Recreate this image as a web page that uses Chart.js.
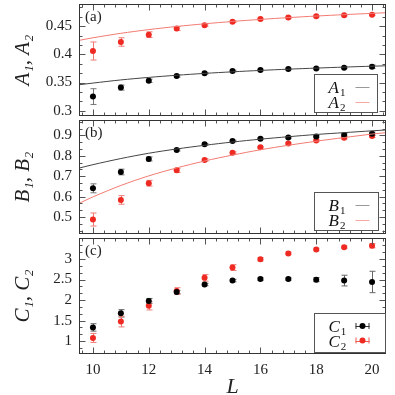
<!DOCTYPE html>
<html>
<head>
<meta charset="utf-8">
<script src="https://cdn.jsdelivr.net/npm/chart.js@4.4.0/dist/chart.umd.min.js"></script>
<style>
  html, body { margin: 0; padding: 0; background: #fff; overflow: hidden; }
  #wrap { position: relative; width: 395px; height: 395px; overflow: hidden; }
  canvas { position: absolute; left: 0; }
</style>
</head>
<body>
<div id="wrap">
  <canvas id="pa" width="395" height="120" style="top:0px"></canvas>
  <canvas id="pb" width="395" height="122" style="top:116px"></canvas>
  <canvas id="pc" width="395" height="170" style="top:234px"></canvas>
</div>
<script>
// system sizes
const L = [10, 11, 12, 13, 14, 15, 16, 17, 18, 19, 20];
const A1 = [0.325, 0.341, 0.353, 0.3615, 0.3666, 0.3705, 0.3722, 0.374, 0.3751, 0.3763, 0.378];
const A1err = [0.014, 0.0045, 0.003, 0.002, 0.0015, 0.0015, 0.0015, 0.0015, 0.0015, 0.0015, 0.003];
const A2 = [0.406, 0.422, 0.435, 0.4458, 0.4519, 0.458, 0.4627, 0.4654, 0.4678, 0.4695, 0.4705];
const A2err = [0.016, 0.0075, 0.005, 0.0035, 0.002, 0.0015, 0.0015, 0.0015, 0.0015, 0.0015, 0.0015];
const B1 = [0.641, 0.721, 0.785, 0.829, 0.857, 0.873, 0.884, 0.8905, 0.895, 0.903, 0.908];
const B1err = [0.022, 0.014, 0.01, 0.005, 0.004, 0.004, 0.004, 0.004, 0.005, 0.006, 0.008];
const B2 = [0.488, 0.584, 0.666, 0.729, 0.780, 0.815, 0.842, 0.861, 0.876, 0.889, 0.898];
const B2err = [0.032, 0.021, 0.014, 0.01, 0.006, 0.005, 0.004, 0.004, 0.005, 0.006, 0.008];
const C1 = [1.335, 1.677, 1.98, 2.195, 2.378, 2.474, 2.51, 2.51, 2.497, 2.474, 2.44];
const C1err = [0.09, 0.09, 0.06, 0.04, 0.03, 0.03, 0.03, 0.03, 0.05, 0.13, 0.26];
const C2 = [1.08, 1.478, 1.86, 2.22, 2.54, 2.79, 2.99, 3.134, 3.23, 3.287, 3.32];
const C2err = [0.11, 0.13, 0.1, 0.08, 0.08, 0.07, 0.04, 0.03, 0.03, 0.03, 0.05];

// fitted curves
const Lfit = [9.5, 10, 11, 12, 13, 14, 15, 16, 17, 18, 19, 20, 20.5];
const A1fit = [0.346, 0.349, 0.3546, 0.3591, 0.3629, 0.3662, 0.369, 0.3715, 0.3737, 0.3756, 0.3774, 0.379, 0.3797];
const A2fit = [0.4248, 0.4295, 0.4374, 0.444, 0.4496, 0.4543, 0.4585, 0.4621, 0.4653, 0.4681, 0.4706, 0.4729, 0.474];
const B1fit = [0.740, 0.757, 0.787, 0.813, 0.834, 0.852, 0.868, 0.882, 0.894, 0.905, 0.914, 0.923, 0.927];
const B2fit = [0.567, 0.599, 0.655, 0.702, 0.741, 0.775, 0.804, 0.830, 0.852, 0.872, 0.890, 0.907, 0.914];

// tick labels
const xTicks = [10, 12, 14, 16, 18, 20];
const aTicks = [0.3, 0.35, 0.4, 0.45];
const bTicks = [0.5, 0.6, 0.7, 0.8, 0.9];
const cTicks = [1, 1.5, 2, 2.5, 3];

const SERIF = '"Liberation Serif", "DejaVu Serif", serif';
const BLACK = '#000000';
const RED = '#ee2a22';

function pts(xs, ys) {
  return xs.map((v, i) => ({ x: v, y: ys[i] }));
}

// error bars, drawn under the dots
const errorBars = {
  id: 'errorBars',
  beforeDatasetsDraw(chart) {
    const { ctx, scales: { x, y } } = chart;
    chart.data.datasets.forEach(ds => {
      if (!ds.errY) return;
      ctx.save();
      ctx.strokeStyle = ds.errColor;
      ctx.lineWidth = 1;
      ds.data.forEach((p, j) => {
        const px = Math.round(x.getPixelForValue(p.x)) + 0.5;
        const y0 = y.getPixelForValue(p.y - ds.errY[j]);
        const y1 = y.getPixelForValue(p.y + ds.errY[j]);
        ctx.beginPath();
        ctx.moveTo(px, y0); ctx.lineTo(px, y1);
        ctx.moveTo(px - 3, y0); ctx.lineTo(px + 3, y0);
        ctx.moveTo(px - 3, y1); ctx.lineTo(px + 3, y1);
        ctx.stroke();
      });
      ctx.restore();
    });
  }
};

// frame with inward ticks on all four sides, plus the panel tag
const frameTicks = {
  id: 'frameTicks',
  afterDatasetsDraw(chart, args, opts) {
    const { ctx, chartArea: a, scales: { x, y } } = chart;
    const top = Math.round(a.top) + 0.5, bot = Math.round(a.bottom) - 0.5;
    const left = Math.round(a.left) + 0.5, right = Math.round(a.right) - 0.5;
    ctx.save();
    ctx.strokeStyle = '#555';
    ctx.lineWidth = 1;
    ctx.beginPath();
    // x ticks every 0.4, major at the labelled ones
    for (let i = 0; ; i++) {
      const v = 9.6 + i * 0.4;
      if (v > x.max) break;
      const major = xTicks.some(t => Math.abs(t - v) < 1e-6);
      const len = major ? 6 : 3;
      const px = Math.round(x.getPixelForValue(v)) + 0.5;
      ctx.moveTo(px, bot); ctx.lineTo(px, bot - len);
      ctx.moveTo(px, top); ctx.lineTo(px, top + len);
    }
    // y ticks
    const maj = opts.yTicks, step = opts.yMinor;
    let v0 = maj[0];
    while (v0 - step > y.min) v0 -= step;
    for (let i = 0; ; i++) {
      const v = v0 + i * step;
      if (v > y.max) break;
      const major = maj.some(t => Math.abs(t - v) < step / 10);
      const len = major ? 6 : 3;
      const py = Math.round(y.getPixelForValue(v)) + 0.5;
      ctx.moveTo(left, py); ctx.lineTo(left + len, py);
      ctx.moveTo(right, py); ctx.lineTo(right - len, py);
    }
    ctx.stroke();
    ctx.strokeStyle = '#333';
    ctx.strokeRect(left, top, right - left, bot - top);
    ctx.fillStyle = '#222';
    ctx.font = '15px ' + SERIF;
    ctx.textBaseline = 'middle';
    ctx.textAlign = 'left';
    ctx.fillText(opts.tag, a.left + 6, a.top + 13);
    ctx.restore();
  }
};

// boxed legend in the lower right corner
const boxLegend = {
  id: 'boxLegend',
  afterDraw(chart, args, opts) {
    const { ctx, chartArea: a } = chart;
    const x1 = Math.round(a.right - opts.right) + 0.5;
    const y1 = Math.round(a.bottom - opts.bottom) + 0.5;
    const x0 = x1 - opts.width, y0 = y1 - opts.height;
    ctx.save();
    ctx.fillStyle = '#fff';
    ctx.fillRect(x0, y0, opts.width, opts.height);
    ctx.strokeStyle = '#555';
    ctx.lineWidth = 1;
    ctx.strokeRect(x0, y0, opts.width, opts.height);
    opts.items.forEach((it, k) => {
      const cy = y0 + 12.5 + k * 14.5;
      ctx.fillStyle = '#111';
      ctx.textBaseline = 'alphabetic';
      ctx.textAlign = 'left';
      ctx.font = 'italic 17px ' + SERIF;
      ctx.fillText(it.letter, x0 + 14, cy + 6);
      const w = ctx.measureText(it.letter).width;
      ctx.font = '11px ' + SERIF;
      ctx.fillText(it.sub, x0 + 14 + w + 1, cy + 9);
      const sx0 = x0 + 41, sx1 = x0 + 55;
      ctx.strokeStyle = it.line;
      ctx.beginPath();
      ctx.moveTo(sx0, Math.round(cy) + 0.5); ctx.lineTo(sx1, Math.round(cy) + 0.5);
      if (it.dot) {
        ctx.moveTo(sx0 + 0.5, cy - 3); ctx.lineTo(sx0 + 0.5, cy + 3);
        ctx.moveTo(sx1 - 0.5, cy - 3); ctx.lineTo(sx1 - 0.5, cy + 3);
      }
      ctx.stroke();
      if (it.dot) {
        ctx.fillStyle = it.dot;
        ctx.beginPath();
        ctx.arc((sx0 + sx1) / 2, cy, 3, 0, Math.PI * 2);
        ctx.fill();
      }
    });
    ctx.restore();
  }
};

function makePanel(id, p) {
  const datasets = [];
  (p.fits || []).forEach(f => datasets.push({
    data: pts(Lfit, f.ys), showLine: true, borderColor: f.color, borderWidth: 1,
    pointRadius: 0, tension: 0.3, fill: false
  }));
  p.series.forEach(s => datasets.push({
    data: pts(L, s.ys), showLine: false, pointRadius: 3, pointBackgroundColor: s.color,
    pointBorderWidth: 0, errY: s.err, errColor: s.errColor
  }));
  const showX = !!p.showX;
  new Chart(document.getElementById(id), {
    type: 'scatter',
    data: { datasets },
    plugins: [errorBars, frameTicks, boxLegend],
    options: {
      responsive: false,
      animation: false,
      events: [],
      layout: { padding: p.padding },
      scales: {
        x: {
          type: 'linear', min: 9.5, max: 20.5, display: showX,
          afterBuildTicks: sc => { sc.ticks = xTicks.map(v => ({ value: v })); },
          afterFit: sc => {
            if (showX) sc.height = 50;
            sc.paddingLeft = 0; sc.paddingRight = 0;
          },
          grid: { display: false, drawTicks: false },
          border: { display: false },
          ticks: { padding: 7, color: '#222', font: { family: SERIF, size: 15 } },
          title: {
            display: showX, text: 'L', color: '#222',
            font: { family: SERIF, size: 22, style: 'italic' }, padding: { top: 0, bottom: 4 }
          }
        },
        y: {
          type: 'linear', min: p.yMin, max: p.yMax,
          afterBuildTicks: sc => { sc.ticks = p.yTicks.map(v => ({ value: v })); },
          afterFit: sc => {
            sc.width = 79;
            sc.paddingTop = 0; sc.paddingBottom = 0;
          },
          grid: { display: false, drawTicks: false },
          border: { display: false },
          ticks: { padding: 7, color: '#222', font: { family: SERIF, size: 15 }, callback: v => String(v) },
          title: {
            display: true, text: p.yTitle, color: '#222',
            font: { family: SERIF, size: 21, style: 'italic' }, padding: { top: 11, bottom: 0 }
          }
        }
      },
      plugins: {
        legend: { display: false },
        tooltip: { enabled: false },
        frameTicks: { yTicks: p.yTicks, yMinor: p.yMinor, tag: p.tag },
        boxLegend: p.legend
      }
    }
  });
}

makePanel('pa', {
  tag: '(a)', yTitle: 'A₁, A₂', yMin: 0.2905, yMax: 0.4895, yTicks: aTicks, yMinor: 0.05 / 3,
  padding: { top: 0, bottom: 2, left: 0, right: 9 },
  fits: [{ ys: A1fit, color: '#444' }, { ys: A2fit, color: '#f27a72' }],
  series: [
    { ys: A1, err: A1err, color: BLACK, errColor: '#777' },
    { ys: A2, err: A2err, color: RED, errColor: '#f07a72' }
  ],
  legend: {
    right: 9, bottom: 4, width: 63, height: 38,
    items: [{ letter: 'A', sub: '1', line: '#999' }, { letter: 'A', sub: '2', line: '#f6a8a2' }]
  }
});

makePanel('pb', {
  tag: '(b)', yTitle: 'B₁, B₂', yMin: 0.417, yMax: 0.976, yTicks: bTicks, yMinor: 0.1 / 3,
  padding: { top: 2, bottom: 2, left: 0, right: 9 },
  fits: [{ ys: B1fit, color: '#444' }, { ys: B2fit, color: '#f27a72' }],
  series: [
    { ys: B1, err: B1err, color: BLACK, errColor: '#777' },
    { ys: B2, err: B2err, color: RED, errColor: '#f07a72' }
  ],
  legend: {
    right: 8, bottom: 4, width: 64, height: 38,
    items: [{ letter: 'B', sub: '1', line: '#999' }, { letter: 'B', sub: '2', line: '#f6a8a2' }]
  }
});

makePanel('pc', {
  tag: '(c)', yTitle: 'C₁, C₂', yMin: 0.689, yMax: 3.509, yTicks: cTicks, yMinor: 0.5 / 3,
  padding: { top: 2, bottom: 0, left: 0, right: 9 }, showX: true,
  series: [
    { ys: C1, err: C1err, color: BLACK, errColor: '#666' },
    { ys: C2, err: C2err, color: RED, errColor: '#f07a72' }
  ],
  legend: {
    right: 1, bottom: 2, width: 71, height: 39,
    items: [
      { letter: 'C', sub: '1', line: '#333', dot: BLACK },
      { letter: 'C', sub: '2', line: '#f05a52', dot: RED }
    ]
  }
});
</script>
</body>
</html>
